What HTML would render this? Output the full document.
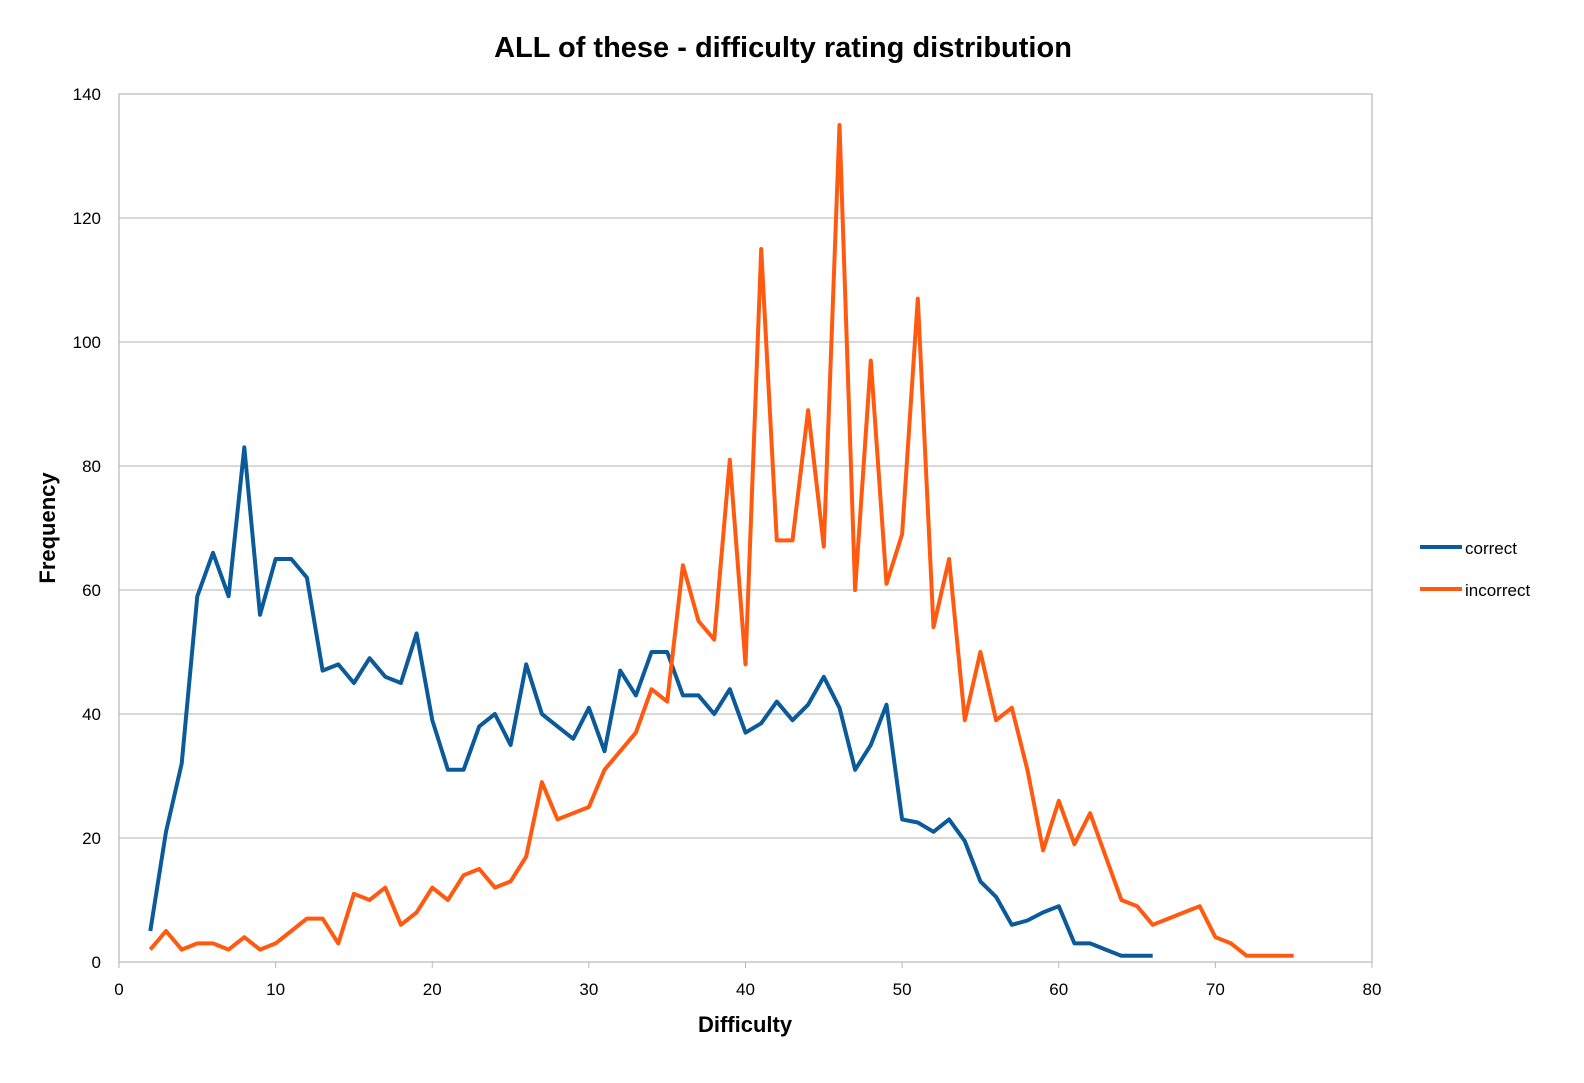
<!DOCTYPE html>
<html><head><meta charset="utf-8"><style>
body{margin:0;background:#fff;}
svg text{font-family:"Liberation Sans",sans-serif;}
</style></head><body>
<svg id="s" width="1584" height="1078" xmlns="http://www.w3.org/2000/svg">
<text x="783" y="57" text-anchor="middle" font-size="29" font-weight="bold">ALL of these - difficulty rating distribution</text>
<g id="grid"></g>
<rect x="119" y="94" width="1253" height="868" fill="none" stroke="#b8b8b8" stroke-width="1.2"/>
<text x="745" y="1032" text-anchor="middle" font-size="22" font-weight="bold">Difficulty</text>
<text transform="translate(55,528) rotate(-90)" text-anchor="middle" font-size="22" font-weight="bold">Frequency</text>
<path id="c" fill="none" stroke="#0b5a9a" stroke-width="4" stroke-linejoin="round"/>
<path id="i" fill="none" stroke="#ff5a10" stroke-width="4" stroke-linejoin="round"/>
<line x1="1420" y1="547" x2="1462" y2="547" stroke="#0b5a9a" stroke-width="4"/>
<text x="1465" y="554" font-size="17">correct</text>
<line x1="1420" y1="589" x2="1462" y2="589" stroke="#ff5a10" stroke-width="4"/>
<text x="1465" y="596" font-size="17">incorrect</text>
</svg>
<script>
var X=function(v){return 119+v*1253/80},Y=function(v){return 962-v*868/140};
var g='';
for(var k=0;k<=140;k+=20){var y=Y(k);if(k>0&&k<140)g+='<line x1="119" x2="1372" y1="'+y+'" y2="'+y+'" stroke="#c0c0c0" stroke-width="1.2"/>';
g+='<text x="101" y="'+(y+6)+'" text-anchor="end" font-size="17">'+k+'</text>';}
for(var k=0;k<=80;k+=10){var x=X(k);g+='<line x1="'+x+'" x2="'+x+'" y1="962" y2="968" stroke="#b8b8b8"/>';
g+='<text x="'+x+'" y="995" text-anchor="middle" font-size="17">'+k+'</text>';}
document.getElementById('grid').innerHTML=g;
var c=[5,21,32,59,66,59,83,56,65,65,62,47,48,45,49,46,45,53,39,31,31,38,40,35,48,40,38,36,41,34,47,43,50,50,43,43,40,44,37,38.5,42,39,41.5,46,41,31,35,41.5,23,22.5,21,23,19.5,13,10.5,6,6.7,8,9,3,3,2,1,1,1];
var i=[2,5,2,3,3,2,4,2,3,5,7,7,3,11,10,12,6,8,12,10,14,15,12,13,17,29,23,24,25,31,34,37,44,42,64,55,52,81,48,115,68,68,89,67,135,60,97,61,69,107,54,65,39,50,39,41,31,18,26,19,24,17,10,9,6,7,8,9,4,3,1,1,1,1];
function p(a){return a.map(function(v,j){return (j?'L':'M')+X(j+2).toFixed(1)+' '+Y(v).toFixed(1)}).join(' ')}
document.getElementById('c').setAttribute('d',p(c));
document.getElementById('i').setAttribute('d',p(i));
</script>
</body></html>
